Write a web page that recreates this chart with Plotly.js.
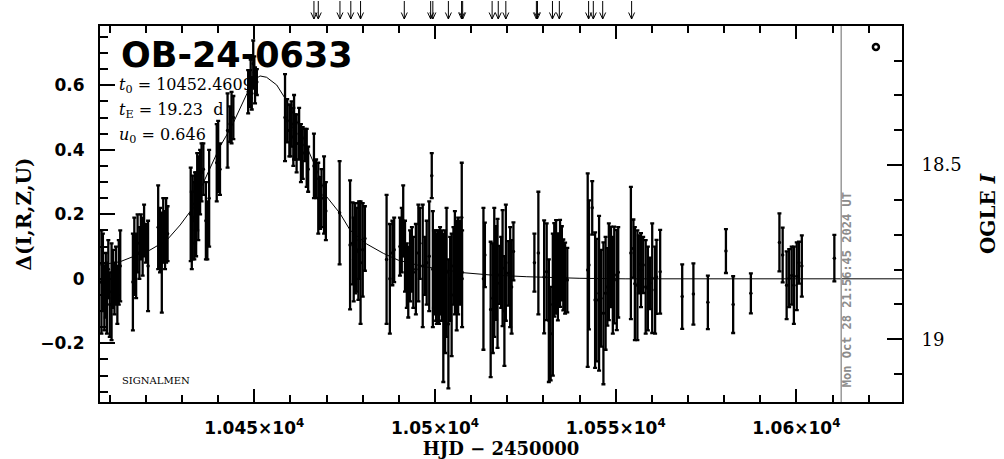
<!DOCTYPE html>
<html><head><meta charset="utf-8">
<script src="https://cdn.plot.ly/plotly-3.0.1.min.js"></script>
<style>html,body{margin:0;padding:0;background:#fff}#chart{width:1004px;height:459px}</style>
</head><body><div id="chart"></div>
<script>
// ---- data ----
const hjd = [
 10407.7,10408.1,10408.5,10408.9,10409.2,10409.6,10410.0,10410.5,10410.9,10411.3,10411.7,10412.1,10412.5,10412.9,
 10416.4,10416.8,10417.3,10417.7,10418.2,10418.6,10419.1,10419.5,10420.0,10420.6,
 10423.4,10423.9,10424.4,10424.8,10425.3,10425.6,10426.0,
 10432.4,10432.7,10432.95,10433.4,10433.6,10433.9,10434.2,10434.5,10435.0,10435.4,10435.9,10436.6,10437.0,10437.5,
 10439.6,10440.0,10440.5,
 10442.6,10443.3,10443.7,10444.2,
 10448.3,10448.8,10449.0,10449.3,10449.7,10450.0,10450.2,10450.7,
 10458.5,10459.1,10459.7,10460.0,10460.3,10460.8,10461.0,10461.3,10461.7,10462.4,10462.9,10463.4,10464.0,10464.5,10464.9,
 10466.5,10467.1,10467.7,10468.2,10468.6,10469.3,10469.8,
 10473.6,
 10476.5,10477.2,10477.5,10477.9,10478.3,10478.8,10479.0,10479.4,10480.0,10480.6,
 10486.6,10487.5,10488.2,10488.7,10490.3,10490.8,10491.2,10491.7,10492.2,10492.6,10493.1,10493.6,10494.0,10494.7,10495.4,
 10495.8,10496.6,10497.2,10497.7,10498.4,10499.1,10499.4,10499.7,10500.0,10500.3,10500.5,10500.7,10500.9,10501.1,10501.4,
 10501.6,10501.9,10502.3,10502.8,10503.2,10503.7,10504.2,10504.6,10505.1,10505.5,10506.0,10506.4,10506.9,10507.4,10507.5,
 10513.4,10513.8,10515.4,10516.0,10516.4,10516.9,10517.3,10517.8,10518.3,10518.7,10519.2,10519.6,10520.3,10520.8,10521.2,10521.7,
 10527.5,10528.6,10530.2,10530.9,10531.5,10532.0,10532.6,10533.0,10533.5,10534.0,10534.6,10535.1,10535.5,10536.0,10536.6,
 10542.25,10542.6,10543.5,10544.3,10544.7,10545.4,10545.9,10546.6,10547.2,10547.7,10548.1,10548.7,10549.2,10549.6,10550.3,10550.7,
 10554.2,10554.9,10555.3,10556.0,10556.4,10557.0,10557.6,10558.3,10558.9,10559.5,10560.1,10560.9,10561.3,10562.3,
 10568.4,10571.5,10575.5,10580.5,10582.5,10587.4,10595.3,10596.2,10597.3,10598.0,10598.7,10599.3,10600.1,10600.7,10601.5,10610.5
];
const delta = [
 -0.01,0.02,-0.06,-0.02,-0.06,0.03,-0.08,-0.04,0.00,-0.03,0.01,-0.05,0.02,0.04,
 -0.01,0.07,0.04,0.11,0.08,0.13,0.10,0.15,0.11,0.04,
 0.16,0.12,0.05,0.15,0.12,0.15,0.14,
 0.20,0.15,0.19,0.18,0.22,0.20,0.27,0.25,0.30,0.33,0.34,0.18,0.15,0.25,
 0.36,0.38,0.34,
 0.46,0.48,0.50,0.50,
 0.58,0.59,0.62,0.575,0.667,0.64,0.60,0.61,
 0.50,0.49,0.46,0.46,0.48,0.44,0.47,0.44,0.42,0.45,0.39,0.39,0.415,0.375,0.34,
 0.35,0.31,0.25,0.235,0.25,0.26,0.21,
 0.205,
 0.105,0.11,0.06,0.095,0.09,0.085,0.12,0.05,0.09,0.125,
 0.06,0.00,0.08,0.09,0.10,0.12,0.18,0.07,0.01,-0.01,0.04,0.06,0.02,0.03,0.08,
 0.11,0.04,0.04,0.05,0.07,0.32,0.03,0.03,0.02,-0.01,0.00,0.04,0.02,-0.02,0.03,
 0.00,0.01,-0.09,-0.04,0.02,-0.14,0.00,-0.05,0.04,0.05,0.01,0.04,0.05,0.19,0.00,
 0.00,0.074,-0.095,-0.06,0.02,0.018,-0.014,0.012,0.02,0.033,-0.10,0.05,0.017,0.005,-0.025,0.085,
 0.05,0.08,0.006,0.022,-0.13,-0.17,-0.08,0.028,0.037,0.006,0.048,0.048,0.012,0.002,-0.004,
 0.027,0.043,0.22,-0.066,-0.066,-0.045,-0.06,-0.107,-0.045,-0.025,0.022,0.037,-0.02,0.012,-0.004,0.02,
 0.08,0.094,-0.015,-0.02,0.045,0.027,0.043,-0.025,-0.03,-0.014,0.002,-0.035,0.006,0.022,
 -0.055,-0.047,-0.073,0.086,-0.08,-0.045,0.113,0.074,-0.02,0.002,0.01,-0.02,0.008,0.05,0.04,0.064
];
const sigma = [
 0.16,0.12,0.10,0.10,0.11,0.09,0.10,0.15,0.09,0.08,0.09,0.09,0.10,0.11,
 0.15,0.12,0.10,0.09,0.08,0.07,0.09,0.08,0.06,0.14,
 0.13,0.10,0.155,0.10,0.09,0.10,0.085,
 0.145,0.12,0.13,0.12,0.11,0.13,0.12,0.13,0.10,0.09,0.08,0.12,0.09,0.15,
 0.12,0.11,0.08,
 0.115,0.055,0.08,0.067,
 0.067,0.057,0.06,0.05,0.072,0.05,0.056,0.04,
 0.135,0.067,0.08,0.08,0.07,0.09,0.10,0.07,0.09,0.08,0.09,0.08,0.05,0.09,0.07,
 0.10,0.06,0.11,0.08,0.09,0.12,0.09,
 0.16,
 0.20,0.127,0.13,0.14,0.13,0.15,0.12,0.19,0.145,0.10,
 0.20,0.17,0.10,0.10,0.09,0.10,0.11,0.11,0.10,0.11,0.11,0.10,0.11,0.14,0.15,
 0.11,0.19,0.09,0.13,0.17,0.07,0.18,0.12,0.13,0.12,0.14,0.11,0.13,0.12,0.13,
 0.11,0.14,0.23,0.19,0.20,0.20,0.13,0.19,0.12,0.16,0.17,0.15,0.13,0.17,0.15,
 0.22,0.10,0.21,0.17,0.20,0.145,0.20,0.09,0.11,0.18,0.17,0.18,0.10,0.155,0.145,0.09,
 0.09,0.19,0.175,0.15,0.19,0.145,0.22,0.145,0.145,0.135,0.135,0.115,0.11,0.11,0.10,
 0.30,0.20,0.083,0.21,0.19,0.24,0.15,0.22,0.175,0.12,0.15,0.125,0.15,0.15,0.155,0.14,
 0.205,0.09,0.175,0.17,0.09,0.115,0.087,0.145,0.13,0.08,0.17,0.135,0.115,0.13,
 0.10,0.095,0.083,0.068,0.088,0.062,0.09,0.085,0.105,0.09,0.09,0.12,0.105,0.065,0.095,0.072
];
// model curve
const modelT = [10407.3,10412.85,10416.5,10421.1,10425.8,10429.5,10432.2,10437.8,10440.5,10443.7,10447.9,10449.7,10451.6,
  10453.4,10456.2,10458.5,10461.7,10464.5,10467.3,10470.0,10473.7,10476.5,10481.1,10485.7,10489.8,10496.8,10507.8,
  10515.2,10525.4,10540.1,10552.6,10607.9,10629.2];
const modelD = [0.043,0.053,0.069,0.089,0.120,0.167,0.208,0.348,0.410,0.472,0.575,0.616,0.629,
  0.625,0.601,0.560,0.492,0.410,0.337,0.255,0.203,0.151,0.108,0.079,0.058,0.038,0.019,
  0.012,0.0065,0.0016,0.0,0.0,0.0];
// markers above the frame (times)
const arrowT = [10466.5,10467.7,10473.7,10476.7,10479.4,10491.5,10498.8,10499.4,10503.7,10507.35,10507.65,
  10515.8,10517.5,10519.6,10528.05,10528.35,10532.5,10534.4,10542.5,10543.8,10546.4,10554.4];
const nowT = 10612.4;
const nowLabel = 'Mon Oct 28 21:56:45 2024 UT';
const markT = [10622.0];
const markD = [0.719];
const xTickVals = [10450, 10500, 10550, 10600];
const xTickText = ['1.045×10<sup>4</sup>', '1.05×10<sup>4</sup>', '1.055×10<sup>4</sup>', '1.06×10<sup>4</sup>'];
const magTickVals = [18.5, 19];
const magTickText = ['18.5', '19'];
const eventName = 'OB-24-0633';
const paramLines = ['<i>t</i><sub>0</sub> = 10452.4609', '<i>t</i><sub>E</sub> = 19.23  d', '<i>u</i><sub>0</sub> = 0.646'];

// ---- geometry ----
const W = 1004, H = 459, ML = 100, MR = 102, MT = 26, MB = 57;
const PW = W - ML - MR, PH = H - MT - MB;
const px = v => (v - ML) / PW;          // canvas x -> paper
const py = v => (H - MB - v) / PH;       // canvas y -> paper
const xRange = [10407.30, 10629.22];
const dayPerPx = (xRange[1] - xRange[0]) / PW;

const traces = [
  {x: modelT, y: modelD, mode: 'lines', line: {color: '#000', width: 1}, hoverinfo: 'skip', showlegend: false},
  {x: hjd, y: delta, mode: 'markers', marker: {size: 3.5, color: '#000'},
   error_y: {type: 'data', array: sigma, visible: true, color: '#000', thickness: 2.3, width: 2}, showlegend: false},
  {x: markT, y: markD, mode: 'markers', marker: {symbol: 'circle-open', size: 6, color: '#000', line: {width: 2.5, color: '#000'}}, showlegend: false},
  {x: [nowT], y: [19], yaxis: 'y2', mode: 'markers', marker: {opacity: 0}, hoverinfo: 'skip', showlegend: false}
];

const shapes = [];
const yTop = py(1), yTip = py(19), yHead = py(12.5), dx = 3 * dayPerPx;
arrowT.forEach(t => {
  shapes.push({type: 'line', xref: 'x', yref: 'paper', x0: t, x1: t, y0: yTop, y1: yTip, line: {color: '#000', width: 1}});
  shapes.push({type: 'path', xref: 'x', yref: 'paper',
    path: `M ${t - dx},${yHead} L ${t},${yTip} L ${t + dx},${yHead}`, line: {color: '#000', width: 1}});
});
shapes.push({type: 'line', xref: 'x', yref: 'paper', x0: nowT, x1: nowT, y0: 0, y1: 1, line: {color: '#999', width: 1.5}});

const serif = 'DejaVu Serif', sans = 'DejaVu Sans';
const annotations = [
  {xref: 'paper', yref: 'paper', x: px(119), y: py(55), xanchor: 'left', yanchor: 'middle', showarrow: false,
   text: eventName, font: {family: sans, size: 35, color: '#000', weight: 'bold'}},
  ...paramLines.map((s, i) => ({xref: 'paper', yref: 'paper', x: px(117), y: py(86 + i * 24.5), xanchor: 'left', yanchor: 'middle',
   showarrow: false, text: s, font: {family: serif, size: 16, color: '#000'}})),
  {xref: 'paper', yref: 'paper', x: px(120), y: py(380), xanchor: 'left', yanchor: 'middle', showarrow: false,
   text: 'SIGNALMEN', font: {family: serif, size: 10, color: '#000'}},
  {xref: 'x', yref: 'paper', x: nowT, xshift: 6, y: py(290), xanchor: 'center', yanchor: 'middle', textangle: -90, showarrow: false,
   text: nowLabel, font: {family: 'DejaVu Sans Mono', size: 12, color: '#8c8c8c', weight: 'bold'}}
];

const tickCommon = {ticks: 'inside', tickcolor: '#000', tickwidth: 2, showline: true, linecolor: '#000', linewidth: 2,
  showgrid: false, zeroline: false};

const layout = {
  width: W, height: H, margin: {l: ML, r: MR, t: MT, b: MB, pad: 0},
  paper_bgcolor: '#fff', plot_bgcolor: '#fff', showlegend: false,
  xaxis: Object.assign({}, tickCommon, {
    range: xRange, mirror: 'ticks', ticklen: 13, tickmode: 'array', tickvals: xTickVals, ticktext: xTickText,
    ticklabelstandoff: 10,
    tickfont: {family: sans, size: 17, color: '#000', weight: 'bold'},
    minor: {tickmode: 'linear', dtick: 10, tick0: 10400, ticks: 'inside', ticklen: 7, tickwidth: 2, tickcolor: '#000', showgrid: false},
    title: {text: 'HJD − 2450000', standoff: 4, font: {family: serif, size: 18, color: '#000', weight: 'bold'}}
  }),
  yaxis: Object.assign({}, tickCommon, {
    range: [-0.382, 0.784], ticklen: 15, tick0: 0, dtick: 0.2, ticklabelstandoff: 10,
    tickfont: {family: sans, size: 17, color: '#000', weight: 'bold'},
    minor: {tickmode: 'linear', dtick: 0.05, tick0: 0, ticks: 'inside', ticklen: 8, tickwidth: 2, tickcolor: '#000', showgrid: false},
    title: {text: 'Δ(I,R,Z,U)', standoff: 3, font: {family: serif, size: 20, color: '#000', weight: 'bold'}}
  }),
  yaxis2: Object.assign({}, tickCommon, {
    overlaying: 'y', side: 'right', anchor: 'x', range: [19.180, 18.101], ticklen: 15,
    tickmode: 'array', tickvals: magTickVals, ticktext: magTickText, ticklabelstandoff: 14,
    tickfont: {family: serif, size: 18, color: '#000'},
    minor: {tickmode: 'linear', dtick: 0.1, tick0: 18, ticks: 'inside', ticklen: 8, tickwidth: 2, tickcolor: '#000', showgrid: false},
    title: {text: 'OGLE <i>I</i>', standoff: 20, font: {family: serif, size: 20, color: '#000', weight: 'bold'}}
  }),
  shapes: shapes,
  annotations: annotations
};

Plotly.newPlot('chart', traces, layout, {staticPlot: true, displayModeBar: false});
</script>
</body></html>
